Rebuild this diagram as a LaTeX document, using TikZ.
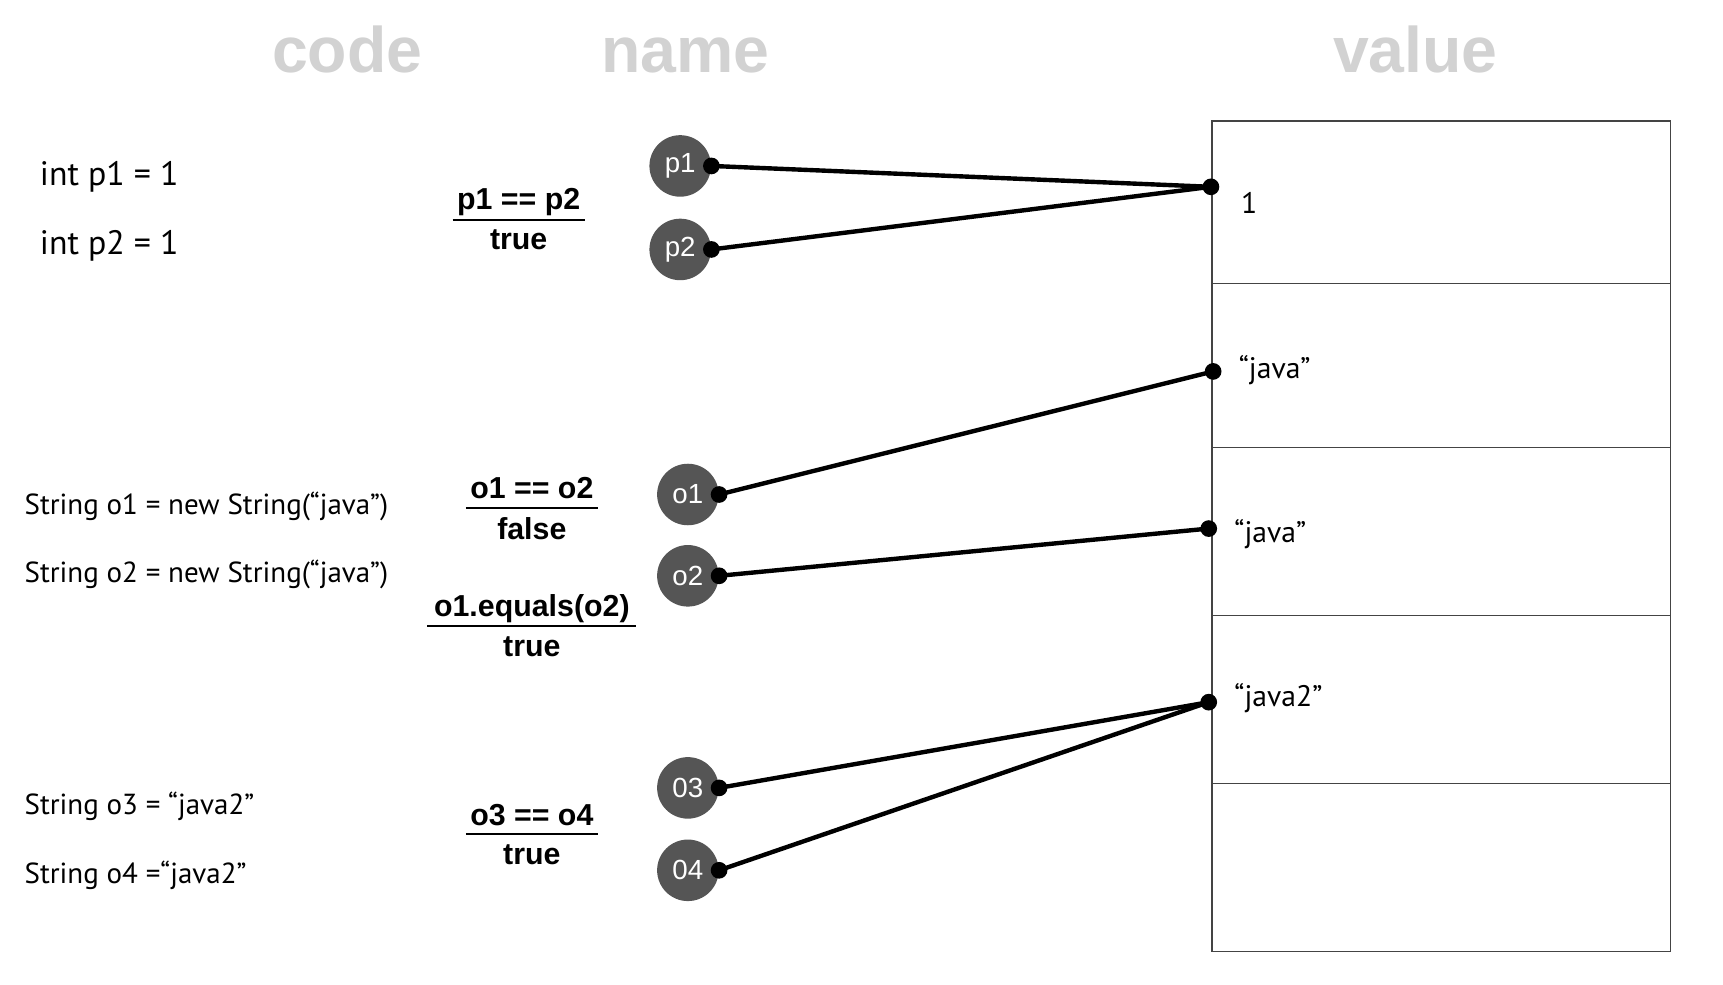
\documentclass[tikz,border=0pt]{standalone}
\usepackage{fontspec}
\setmainfont{PT Sans}
\newfontfamily\hsans{Liberation Sans}
\definecolor{titlegray}{HTML}{D2D2D2}
\definecolor{vargray}{HTML}{555555}
\definecolor{boxline}{HTML}{444444}
\tikzset{
  title/.style={anchor=base, inner sep=0pt, text=titlegray, font=\hsans\bfseries\fontsize{29.3}{34}\selectfont},
  inttext/.style={anchor=base west, inner sep=0pt, font=\fontsize{15.4}{19}\selectfont},
  codetext/.style={anchor=base west, inner sep=0pt, font=\fontsize{13.2}{16}\selectfont},
  valtext/.style={anchor=base west, inner sep=0pt, font=\fontsize{13.5}{16}\selectfont},
  eqtext/.style={anchor=base, inner sep=0pt, font=\hsans\bfseries\fontsize{13.8}{16}\selectfont},
  eqrule/.style={line width=1pt},
  var/.style={circle, fill=vargray, minimum size=28pt, inner sep=0pt, text=white, font=\hsans\fontsize{12.6}{14}\selectfont},
  link/.style={line width=2pt},
  cell/.style={draw=boxline, line width=0.6pt},
}
\begin{document}
\begin{tikzpicture}[x=0.5pt,y=-0.5pt]
\useasboundingbox (0,0) rectangle (1568,896);
% titles
\node[title] (tcode) at (316,66) {code};
\node[title] (tname) at (624,66) {name};
\node[title] (tvalue) at (1288,66) {value};
% code lines
\node[inttext] (c1) at (36,169) {int p1 = 1};
\node[inttext] (c2) at (36,232) {int p2 = 1};
\node[codetext] (c3) at (22,468) {String o1 = new String(“java”)};
\node[codetext] (c4) at (22,530) {String o2 = new String(“java”)};
\node[codetext] (c5) at (22,741) {String o3 = “java2”};
\node[codetext] (c6) at (22,804) {String o4 =“java2”};
% comparisons
\node[eqtext] (eqa) at (472,191) {p1 == p2};
\draw[eqrule] (412,200) -- (532,200);
\node[eqtext] (eqar) at (472,227) {true};
\node[eqtext] (eqb) at (484,454) {o1 == o2};
\draw[eqrule] (424,462) -- (544,462);
\node[eqtext] (eqbr) at (484,491) {false};
\node[eqtext] (eqc) at (484,561) {o1.equals(o2)};
\draw[eqrule] (389,570) -- (579,570);
\node[eqtext] (eqcr) at (484,597) {true};
\node[eqtext] (eqd) at (484,751) {o3 == o4};
\draw[eqrule] (424,759) -- (544,759);
\node[eqtext] (eqdr) at (484,787) {true};
% value box
\draw[cell] (1103,110) rectangle (1520,866);
\foreach \yy in {258,407,560,713} \draw[cell] (1103,\yy) -- (1520,\yy);
\node[valtext] (val1) at (1129,194) {1};
\node[valtext] (val2) at (1127,344) {“java”};
\node[valtext] (val3) at (1123,494) {“java”};
\node[valtext] (val4) at (1123,643) {“java2”};
\coordinate (v1) at (1102,170);
\coordinate (v2) at (1104,338);
\coordinate (v3) at (1100,481);
\coordinate (v4) at (1100,639);
% variables
\node[var] (p1) at (619,151) {p1};
\node[var] (p2) at (619,227) {p2};
\node[var] (o1) at (626,450) {o1};
\node[var] (o2) at (626,524) {o2};
\node[var] (o3) at (626,717) {03};
\node[var] (o4) at (626,792) {04};
% links
\draw[link] (p1.east) -- (v1);
\draw[link] (p2.east) -- (v1);
\draw[link] (o1.east) -- (v2);
\draw[link] (o2.east) -- (v3);
\draw[link] (o3.east) -- (v4);
\draw[link] (o4.east) -- (v4);
\foreach \pp in {p1.east,p2.east,o1.east,o2.east,o3.east,o4.east,v1,v2,v3,v4}
  \fill (\pp) circle (3.8pt);
\end{tikzpicture}
\end{document}
